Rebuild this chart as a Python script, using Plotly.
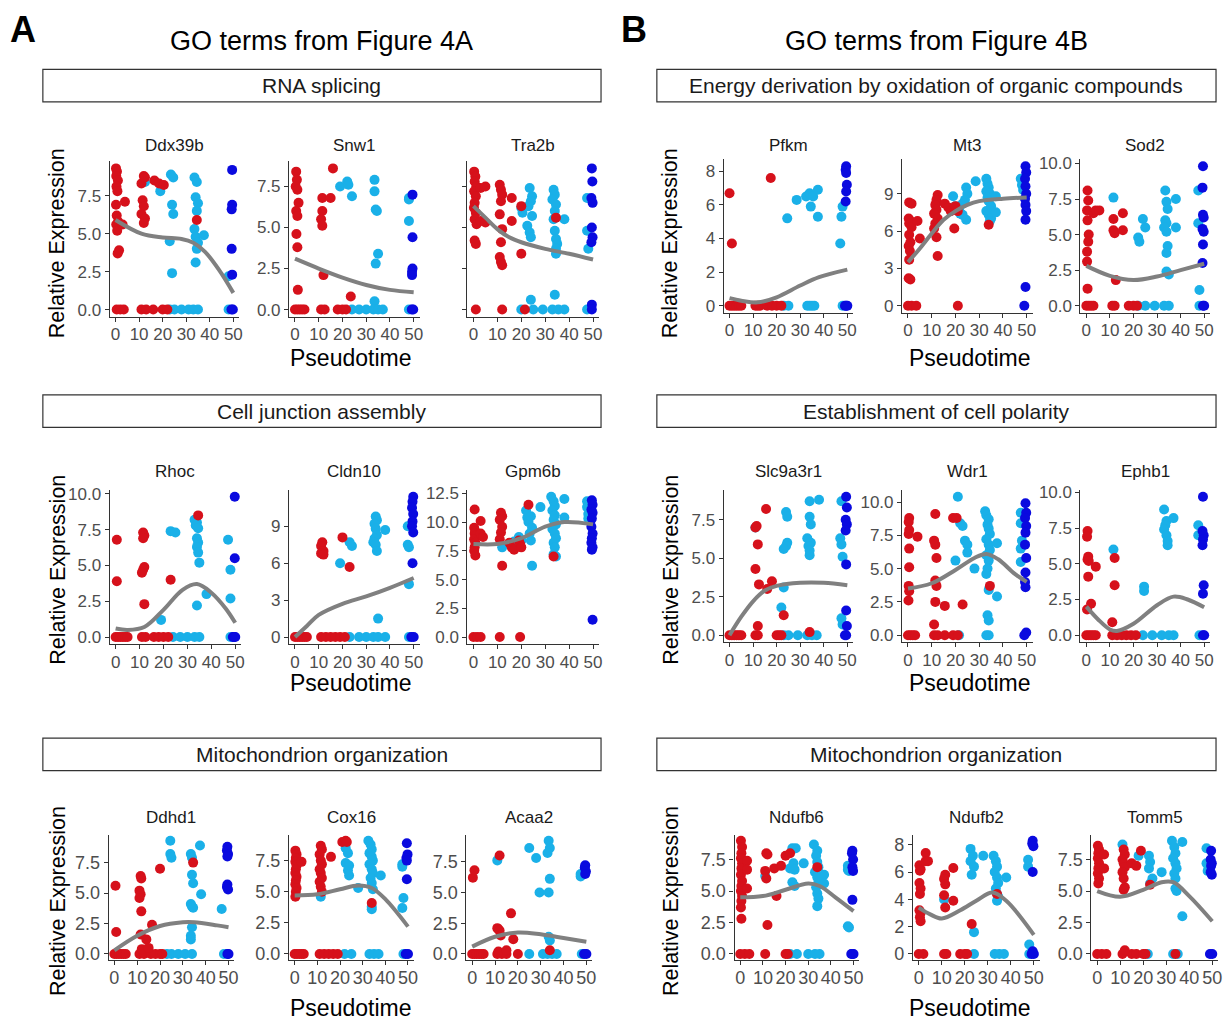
import plotly.graph_objects as go

# ---------------- DATA ----------------
GENES = ["Ddx39b", "Snw1", "Tra2b", "Pfkm", "Mt3", "Sod2",
         "Rhoc", "Cldn10", "Gpm6b", "Slc9a3r1", "Wdr1", "Ephb1",
         "Ddhd1", "Cox16", "Acaa2", "Ndufb6", "Ndufb2", "Tomm5"]

GROUP_TITLES_A = ["RNA splicing", "Cell junction assembly", "Mitochondrion organization"]
GROUP_TITLES_B = ["Energy derivation by oxidation of organic compounds",
                  "Establishment of cell polarity", "Mitochondrion organization"]

X_TICKS = [0, 10, 20, 30, 40, 50]

# (pseudotime, expression) pairs per gene and cell group
Ddx39b_red = [(0.2,9.3),(0.6,9.1),(0.3,8.8),(1.0,8.5),(0.4,8.1),(0.8,7.8),(0.2,6.9),(0.5,6.2),(1.1,5.8),(0.3,5.6),(0.7,5.2),(1.5,3.9),(0.9,3.7),(4.0,7.1),(3.0,5.6),(0.5,0),(2.0,0),(3.5,0),(11.0,8.3),(12.0,8.8),(12.5,8.7),(11.5,7.2),(12.0,6.8),(11.0,6.3),(12.5,6.0),(12.0,5.7),(11,0),(13,0),(16,0),(16.5,8.5),(18.5,8.3),(20.5,8.2),(20,0),(22,0),(34.5,5.9)]
Ddx39b_cyan = [(12.5,8.4),(19,7.8),(23.5,8.9),(24.5,8.7),(24,6.9),(24.5,6.3),(23,4.5),(24,2.4),(23,0),(25,0),(28,0),(31,0),(33.5,8.7),(34.5,8.4),(34,7.4),(35,7.0),(34.5,6.5),(33.5,5.3),(34,4.8),(35,4.4),(34.5,4.0),(34,3.1),(33,0),(35,0),(37.5,4.9),(48,2.2),(48,0)]
Ddx39b_blue = [(49.5,9.2),(49.5,6.9),(49.3,6.6),(49.3,4.0),(49.5,2.3),(49.8,0),(49.2,0)]
Ddx39b_fit = ([0,11,20,28,33,38,44,50], [5.9,5.0,4.75,4.65,4.4,3.8,2.6,1.1])

Snw1_red = [(0.5,8.4),(0.8,7.9),(0.3,7.5),(1.0,7.3),(1.5,6.5),(0.5,6.0),(1.0,5.7),(0.6,4.6),(1.0,3.8),(1.2,1.2),(0,0),(1,0),(2,0),(3,0),(4,0),(11.5,6.8),(11.5,6.0),(11,5.5),(11.5,5.1),(12,2.1),(11,0),(12.5,0),(15,6.8),(16,8.6),(18,0),(20,0),(21.5,0),(23.5,0.8)]
Snw1_cyan = [(19,7.5),(22,7.8),(22.5,7.6),(24,6.9),(24,0),(27,0),(30,0),(33.5,7.9),(33.5,7.2),(34,6.1),(34.5,6.0),(35,3.4),(34,2.8),(33.5,0.5),(33,0),(35,0),(37,0),(48,6.8),(48,6.7),(48,5.4),(48,0)]
Snw1_blue = [(49.5,7.0),(49.5,4.4),(49.5,2.5),(49.3,2.3),(49.3,2.1),(49.8,0),(49.2,0)]
Snw1_fit = ([0,10,20,30,40,50], [3.1,2.5,1.95,1.5,1.2,1.05])

Tra2b_red = [(0.3,8.4),(0.8,8.1),(0.5,7.8),(1.2,7.5),(0.3,7.2),(1,6.9),(0.5,6.5),(0.2,6.2),(1,5.9),(0.5,5.5),(1.3,5.2),(0.5,4.2),(1.0,4.0),(3,7.4),(3,5.4),(5,7.5),(5,5.3),(1,0),(11,7.6),(11.5,7.3),(12,7.0),(11.5,6.6),(11,5.8),(12,4.9),(11.5,4.1),(11,3.2),(11.5,2.9),(12,2.7),(12,0),(16,6.8),(16,5.4),(20,6.3),(20,3.4),(21.5,0),(34.5,5.6)]
Tra2b_cyan = [(20,6.2),(20.5,5.9),(23.5,7.4),(24.5,6.9),(24,6.6),(23,6.3),(24.5,5.7),(22.5,5.1),(23.5,4.7),(24,4.4),(24,0.6),(20,0),(25,0),(29,0),(33.5,7.3),(34,7.0),(33,6.7),(34.5,6.4),(34,6.0),(33.5,5.5),(34,4.8),(34.5,4.3),(35,4.0),(34.5,3.7),(34.5,3.4),(34,0.9),(33,0),(35.5,0),(38,0),(38,5.5),(47.5,6.8),(47.5,4.8),(48,3.7),(47.5,0)]
Tra2b_blue = [(49.5,8.6),(49.7,7.8),(49.3,6.8),(49.8,6.5),(49.5,5.0),(49.8,4.4),(49.3,4.1),(49.5,0.3),(49.5,0)]
Tra2b_fit = ([0,5,10,15,20,30,40,50], [6.3,5.6,4.9,4.4,4.1,3.7,3.4,3.05])

Pfkm_red = [(0,6.7),(1,3.7),(0,0),(1,0),(2,0),(3,0),(4,0),(5,0),(11,0),(12,0),(13,0),(16,0),(18,0),(20,0),(22,0),(17.5,7.6)]
Pfkm_cyan = [(24.5,5.2),(28.5,6.3),(32.5,6.5),(34,6.7),(34.5,5.9),(35.5,6.5),(37.5,6.9),(37.5,5.3),(23,0),(25,0),(33,0),(34,0),(35,0),(36,0),(48,5.9),(47.5,5.3),(47,3.7),(48,0)]
Pfkm_blue = [(49.5,8.3),(49.3,8.1),(49.5,7.9),(49.8,7.2),(49.5,6.8),(49.3,6.2),(49,0),(49.5,0),(50,0)]
Pfkm_fit = ([0,5,12,20,30,38,50], [0.45,0.3,0.2,0.5,1.2,1.7,2.15])

Mt3_red = [(0.5,8.3),(1.5,8.2),(0.3,7.0),(1,6.8),(0.5,6.6),(1.5,6.3),(0.5,5.7),(1,5.1),(0.3,4.8),(0.8,4.4),(0.5,3.7),(0.3,2.2),(1,2.1),(0,0),(1.5,0),(3.5,0),(4,6.8),(5,5.4),(12.5,8.9),(12,8.5),(11.5,8.1),(12,7.7),(11,7.4),(12.5,7.0),(11.5,6.6),(11,6.2),(12,5.5),(12.5,4.0),(15.5,8.2),(17,7.9),(18,7.6),(20,8.0),(19.5,6.2),(21,7.6),(21,0),(34,6.5)]
Mt3_cyan = [(19,8.8),(20,8.0),(21.5,7.7),(22,7.4),(23,8.2),(24.5,9.5),(25,9.0),(24,8.5),(24.5,6.9),(23,7.3),(28.5,10.0),(33,10.2),(33.5,9.8),(34,9.5),(33,9.2),(34.5,9.0),(33.5,8.7),(34,8.4),(35,8.0),(33,7.6),(34,7.3),(35,7.0),(34.5,6.8),(37,8.8),(37,7.5),(47.5,10.2),(48,9.7),(48.5,9.3)]
Mt3_blue = [(49.5,11.2),(49.8,10.7),(49.3,10.2),(49.5,9.6),(49.8,9.0),(49.3,8.6),(49.5,8.1),(49.8,7.6),(49.5,6.9),(49.5,1.5),(49,0)]
Mt3_fit = ([0,5,10,15,20,25,30,40,50], [3.5,4.6,5.8,6.9,7.6,8.1,8.4,8.6,8.7])

Sod2_red = [(0.5,8.1),(0.8,7.4),(0.3,6.7),(0.5,6.0),(1,5.0),(0.8,4.5),(0.3,3.8),(0.3,3.1),(0.5,1.2),(0,0),(1,0),(2,0),(3,0),(3,6.5),(4,6.7),(5.5,6.7),(11.5,6.1),(11.5,5.3),(12,5.1),(12.5,1.8),(15.5,6.5),(15.5,5.3),(11,0),(12,0),(18,0),(20,0),(21.5,0)]
Sod2_cyan = [(11.5,7.6),(22,4.8),(22.5,4.5),(24,6.1),(25,5.5),(22,0),(25,0),(29,0),(33,0),(35,0),(33.5,8.1),(34,7.3),(34.5,6.8),(33.5,6.0),(34,5.8),(33,5.5),(34,5.2),(34.5,4.2),(34,3.7),(34,2.4),(35,2.2),(38,7.5),(38,5.5),(47.5,8.1),(47.5,5.8),(48,1.1),(48,0)]
Sod2_blue = [(49.5,9.8),(49.3,8.3),(49.5,6.4),(49.8,6.2),(49.3,5.4),(49.8,5.2),(49.5,4.3),(49.3,3.0),(49.5,0),(50,0)]
Sod2_fit = ([0,10,20,30,40,50], [2.8,2.1,1.8,2.05,2.5,2.95])

Rhoc_red = [(0.5,6.8),(0.5,3.9),(0,0),(1,0),(2,0),(3,0),(4,0),(5,0),(11.5,7.3),(12,7.1),(11.5,6.9),(12,4.9),(11.5,4.7),(11,4.5),(12,2.3),(11,0),(12.5,0),(16,0),(18,0),(20,0),(22,0),(23,4.0),(34.5,8.5)]
Rhoc_cyan = [(19,1.2),(23,7.4),(25,7.3),(24,0),(27,0),(30,0),(33,0),(35,0),(33,8.2),(34,8.0),(33.5,7.8),(34.5,7.6),(34,6.9),(34.5,6.6),(34,6.3),(34.5,5.9),(35,5.2),(34,2.2),(38,3.0),(47,6.8),(48,4.7),(48,2.7),(48,0)]
Rhoc_blue = [(49.8,9.8),(49.8,5.5),(49,0),(49.5,0),(50,0)]
Rhoc_fit = ([0,5,12,20,28,34,40,46,50], [0.6,0.5,0.7,1.9,3.3,3.7,3.1,2.0,1.0])

Cldn10_red = [(0,0),(1,0),(2,0),(3,0),(4,0),(5,0),(11,0),(13,0),(15,0),(17,0),(19,0),(21,0),(11.5,7.7),(11,7.4),(12,7.0),(11,6.8),(12,6.7),(20,8.1),(23,5.7)]
Cldn10_cyan = [(19,6.0),(23,7.7),(24,7.4),(23,0),(27,0),(30,0),(33,0),(35,0),(38,0),(34,9.8),(34.5,9.5),(33.5,9.2),(34,8.8),(34.5,8.3),(33.5,8.0),(33,7.7),(34,7.5),(34.5,7.0),(35,1.5),(38,8.7),(47.5,9.0),(47.5,7.5),(48,7.3),(48,4.3),(48,0)]
Cldn10_blue = [(49.8,11.4),(49.5,11.0),(49.3,10.5),(49.8,10.0),(49.5,9.4),(49.3,9.0),(49.8,8.5),(49.5,6.0),(49,0),(50,0)]
Cldn10_fit = ([0,5,10,20,30,40,50], [0,0.9,1.8,2.7,3.3,4.0,4.8])

Gpm6b_red = [(0.5,11.1),(0.3,9.5),(0.8,9.2),(0.5,9.0),(1,8.8),(0.3,8.5),(0.8,8.2),(0.5,7.8),(0.3,7.5),(0.8,7.1),(3,10.1),(3,9.0),(4,8.7),(0,0),(1.5,0),(3,0),(11.5,10.8),(12,10.5),(11,10.2),(12,9.6),(11.5,9.1),(11,8.5),(12,6.2),(11,0),(15,8.2),(16,7.8),(17,7.6),(19,8.4),(19.5,8.1),(20,7.8),(19.5,0),(23,11.5),(33.5,7.0)]
Gpm6b_cyan = [(12,7.8),(17,8.3),(19,8.7),(20,8.4),(22.5,10.4),(23,10.0),(22,11.0),(24,10.5),(24.5,9.5),(23.5,9.0),(24,8.4),(24.5,6.2),(28,11.3),(32.5,12.2),(33.5,11.8),(34,11.4),(33,11.0),(34,10.6),(33.5,10.2),(34.5,9.8),(33,9.4),(34,9.0),(34.5,8.6),(33.5,8.2),(34,7.8),(33.5,7.2),(34.5,7.0),(38,12.0),(38,10.4),(47.5,11.8),(47.5,11.3),(48,10.7),(48,10.3)]
Gpm6b_blue = [(49.5,11.9),(49.8,11.5),(49.3,11.1),(49.8,10.8),(49.5,10.3),(49.3,9.6),(49.8,9.0),(49.5,8.6),(49.3,8.2),(49.8,7.8),(49.5,7.6),(49.8,1.5)]
Gpm6b_fit = ([0,10,20,30,38,50], [8.1,8.1,8.6,9.6,10.0,9.8])

Slc9a3r1_red = [(0,0),(1,0),(2,0),(3,0),(4,0),(5,0),(11,0),(12,0),(20,0),(21,0),(22,0),(11.5,7.1),(11,7.0),(12,5.9),(11,4.3),(12.5,3.3),(12,0.6),(15.5,8.2),(16,3.0),(18,3.5),(23,1.3),(34,0.2)]
Slc9a3r1_cyan = [(11,7.0),(22,1.8),(23,3.1),(24,8.0),(24.5,7.7),(24.5,6.0),(24,5.8),(23,5.6),(23,0),(25,0),(29,0),(33,0),(35,0),(37,0),(34,8.7),(34,7.7),(34.5,7.2),(33,6.3),(34.5,6.0),(33.5,5.8),(34,5.5),(34,5.2),(38,8.8),(47.5,8.7),(47,6.3),(47.5,5.9),(48,5.1),(47.5,1.1),(48,0.7)]
Slc9a3r1_blue = [(49.5,9.0),(49.8,8.3),(49.3,7.5),(49.8,7.2),(49.3,6.8),(49.5,4.6),(49.5,1.6),(49.8,0.6),(49,0),(49.5,0)]
Slc9a3r1_fit = ([0,5,10,15,20,30,40,50], [0,1.2,2.2,2.9,3.2,3.4,3.4,3.25])

Wdr1_red = [(0.5,8.8),(0.3,8.5),(0.5,7.9),(0.3,7.6),(0.5,6.5),(0.5,5.1),(0.3,3.7),(0.5,3.3),(0.2,2.6),(0,0),(1,0),(2,0),(3,0),(4,7.4),(11.5,9.1),(11,7.1),(11.5,6.8),(12,5.8),(11.5,4.1),(12,3.7),(11.5,2.5),(11,0.8),(11,0),(12.5,0),(15.5,2.2),(15.5,0),(19,8.8),(20.5,8.8),(19,0),(21,0),(23,2.3),(34.5,3.7)]
Wdr1_cyan = [(21,10.4),(20,5.6),(22,8.4),(23,8.2),(24,7.1),(25,6.8),(25,6.2),(28,5.0),(21.5,0),(32.5,9.3),(33,9.0),(34,8.7),(33.5,8.3),(34,8.0),(34.5,7.6),(33,7.2),(34,6.8),(34.5,6.4),(33,6.0),(34,5.6),(33.5,5.0),(33,4.6),(34,3.4),(33.5,1.5),(34,1.1),(33,0),(34,0),(37.5,6.9),(37.5,2.9),(47.5,9.2),(47.5,8.4),(48,7.1),(47.5,6.5),(47.5,5.5)]
Wdr1_blue = [(49.5,9.9),(49.8,9.2),(49.3,8.8),(49.8,8.2),(49.5,7.7),(49.3,6.8),(49.8,5.8),(49.5,4.7),(49.3,4.0),(49.5,3.6),(49.8,0.2),(49,0)]
Wdr1_fit = ([0,10,20,28,33,38,45,50], [3.5,3.9,4.9,5.8,6.1,5.7,4.6,4.0])

Ephb1_red = [(0.5,7.3),(0.3,6.9),(0.8,5.5),(0.5,5.3),(1,5.2),(0.8,4.1),(0.3,1.8),(2,2.2),(4,4.8),(0,0),(1,0),(2,0),(3,0),(4,0),(11,0),(13,0),(15,0),(17,0),(19,0),(21,0),(12,5.4),(12,3.5),(11,0.9)]
Ephb1_cyan = [(11.5,6.0),(24.5,3.4),(24.5,3.1),(24,0),(28,0),(32,0),(35,0),(37,0),(33,8.8),(34,8.0),(33.5,7.7),(33,7.4),(34,7.0),(34.5,6.6),(34.5,6.3),(37,8.2),(47.5,7.7),(47.5,7.0),(48,0)]
Ephb1_blue = [(49.5,9.7),(49.3,7.3),(49.8,7.0),(49.5,6.7),(49.3,6.3),(49.8,3.5),(49.5,2.9),(49.5,0),(50,0)]
Ephb1_fit = ([0,5,10,13,20,30,37,43,50], [2.0,1.1,0.4,0.3,0.8,2.1,2.7,2.5,1.95])

Ddhd1_red = [(0.5,5.6),(0.8,1.8),(0,0),(1,0),(2,0),(3,0),(4,0),(5,0),(11,0),(13,0),(16,0),(18,0),(20,0),(21,0),(11.5,6.4),(11.8,6.2),(11,5.2),(11.5,4.9),(11,4.6),(11.8,3.5),(11.5,1.6),(12,0.4),(14,1.2),(15,0.5),(16.5,2.4),(20,7.0),(34.5,7.5)]
Ddhd1_cyan = [(24.5,9.3),(24.5,8.2),(25,7.9),(23,0),(25,0),(28,0),(31,0),(34,0),(33.5,8.2),(34,7.9),(34,6.5),(34.5,5.8),(33.5,4.1),(34,3.9),(34.5,3.8),(34,2.2),(33.5,1.5),(33.5,1.2),(37.5,8.9),(38,4.9),(47,3.7),(48,0)]
Ddhd1_blue = [(49.5,8.8),(49.3,8.5),(49.8,8.2),(49.5,8.0),(49.5,5.7),(49.3,5.5),(49.8,5.3),(49.5,0),(50,0)]
Ddhd1_fit = ([0,10,20,30,35,45,50], [0.3,1.5,2.3,2.6,2.6,2.35,2.2])

Cox16_red = [(0.3,8.3),(0.8,8.0),(0.5,7.7),(0.3,7.4),(0.8,7.1),(0.5,6.8),(0.3,6.5),(0.8,6.2),(0.5,5.9),(0.3,5.6),(0.8,5.3),(0.5,5.0),(0.3,4.6),(3,7.4),(0,0),(1,0),(2,0),(3,0),(4,0),(11,0),(13,0),(15,0),(17,0),(19,0),(11.5,8.7),(12,8.4),(11,8.0),(11.5,7.5),(12,7.2),(11,6.8),(11.5,6.5),(12,6.1),(11,5.8),(11.5,5.4),(12,5.0),(16,7.8),(21,9.0),(22.5,9.1),(23,9.0),(34,4.1)]
Cox16_cyan = [(11.5,4.6),(22.5,8.5),(23.5,8.1),(22.5,7.3),(24,7.1),(23.5,6.7),(24,6.3),(22,0),(25,0),(28,5.3),(32.5,9.1),(33.5,8.8),(34,8.4),(33,8.1),(34,7.8),(34.5,7.5),(33,7.2),(34,6.8),(34.5,6.5),(33.5,6.1),(34,5.7),(34.5,5.2),(34,3.8),(34,3.6),(33,0),(35,0),(37,0),(38,6.3),(47.5,7.2),(47.5,7.0),(48,4.5),(47.5,3.7),(48,0)]
Cox16_blue = [(49.5,8.9),(49.8,8.0),(49.3,7.7),(49.5,7.5),(49.5,6.0),(49,0),(50,0)]
Cox16_fit = ([0,10,20,28,34,40,50], [4.7,4.8,5.2,5.5,5.3,4.4,2.2])

Acaa2_red = [(0.3,6.2),(1,6.8),(0,0),(1,0),(2,0),(3,0),(4,0),(5,0),(11,0),(13,0),(15,0),(20,0),(12,8.0),(11,2.1),(11.5,2.0),(12,1.9),(12.5,1.5),(11.5,0.2),(15,0.3),(17,3.3),(18,1.2),(34,0.3)]
Acaa2_cyan = [(11,7.6),(25,8.6),(28,7.8),(29.5,5.0),(33.5,9.2),(34,8.6),(33,8.2),(34,6.1),(33.5,5.0),(33.5,1.4),(34,1.1),(25,0),(31,0),(33,0),(35,0),(37,0),(47.5,6.5),(47.5,6.3),(48,0)]
Acaa2_blue = [(49.5,7.2),(49.3,7.0),(49.8,6.7),(49.5,6.5),(49,0),(50,0)]
Acaa2_fit = ([0,10,20,30,40,50], [0.6,1.4,1.75,1.6,1.3,1.0])

Ndufb6_red = [(0.3,9.0),(0.8,8.5),(0.5,8.0),(0.3,7.6),(0.8,7.2),(0.5,6.8),(0.3,6.3),(0.8,5.8),(0.5,5.4),(0.3,5.0),(0.8,4.6),(0.5,4.2),(0.3,3.7),(0.5,2.8),(3,7.4),(3,6.7),(3,5.2),(0,0),(2,0),(4,0),(11,0),(20,0),(21,0),(11.5,8.0),(12,7.9),(11,6.6),(11.5,6.0),(12,2.3),(15,6.8),(16,4.6),(18,7.0),(20,7.8),(22,8.0),(34,6.9)]
Ndufb6_cyan = [(11,6.2),(22,6.8),(23,8.4),(24.5,8.4),(23.5,7.2),(24,6.7),(23,5.7),(24,5.4),(28,7.2),(22,0),(25,0),(30,0),(33,0),(35,0),(32.5,8.7),(34,8.2),(33.5,7.8),(34,7.3),(34.5,6.9),(33,6.5),(34,6.1),(34.5,5.7),(33.5,5.3),(34,4.8),(34.5,4.4),(34,3.8),(37,6.3),(37,5.6),(47.5,7.0),(47.5,6.7),(48,6.6),(47.5,2.2),(48,2.1)]
Ndufb6_blue = [(49.5,8.2),(49.3,8.0),(49.8,7.5),(49.5,6.9),(49.8,6.6),(49.5,4.3),(49,0),(49.5,0),(50,0)]
Ndufb6_fit = ([0,10,20,30,35,42,50], [4.5,4.6,5.1,5.6,5.4,4.5,3.4])

Ndufb2_red = [(0.3,6.5),(0.8,6.2),(0.5,6.1),(0.3,5.2),(0.8,4.8),(0.5,4.4),(0.3,3.2),(0.8,3.0),(0.5,2.7),(0.8,2.4),(3,7.4),(3,6.8),(4,6.8),(0,0),(2,0),(11,0),(12,0),(18,0),(20,0),(21,0),(11.5,5.8),(11,5.5),(11.5,5.1),(11,4.3),(11.5,3.4),(15,6.3),(15,3.9),(23,2.2),(34,4.4)]
Ndufb2_cyan = [(11,4.0),(22.5,7.7),(23.5,7.2),(22.5,6.8),(24,6.4),(23,5.8),(24,1.6),(28,7.2),(24,0),(33,0),(35,0),(37,0),(32.5,7.2),(33.5,6.8),(34,6.4),(33,6.0),(34,5.6),(34.5,5.2),(33.5,4.8),(34,4.4),(34.5,4.2),(34,3.9),(38,5.6),(47.5,6.9),(47.5,6.4),(48,0.7),(48,0)]
Ndufb2_blue = [(49.5,8.3),(49.3,8.1),(49.8,7.9),(49.5,6.0),(49.5,0.2),(49,0),(50,0)]
Ndufb2_fit = ([0,5,10,18,25,32,38,50], [3.4,2.9,2.6,3.2,3.9,4.5,3.9,1.4])

Tomm5_red = [(0.3,8.6),(0.8,8.3),(0.5,8.0),(0.3,7.6),(0.8,7.2),(0.5,6.8),(0.3,6.4),(0.8,6.0),(0.5,5.6),(3,7.9),(3,6.8),(0,0),(2,0),(4,0),(11,0),(15,0),(17,0),(20,0),(21,0),(11.5,8.3),(12,7.9),(11,7.5),(11.5,7.2),(12,6.9),(11,6.5),(11.5,6.0),(12,5.3),(11.5,5.1),(12,0.3),(15,7.2),(17,7.0),(19,8.2),(23,5.5),(34,0)]
Tomm5_cyan = [(11,8.7),(18,7.8),(22.5,7.8),(23,7.3),(22.5,6.8),(24,6.0),(23,5.6),(22,0),(33,0),(35,0),(28,6.5),(32.5,9.0),(33.5,8.5),(34,8.0),(33,7.6),(34,7.2),(34.5,6.8),(33.5,6.4),(34,6.0),(34,5.2),(34.5,5.0),(37,8.9),(37,3.0),(47.5,8.4),(47.5,7.2),(48,6.6)]
Tomm5_blue = [(49.5,8.2),(49.3,7.5),(49.8,7.2),(49.5,7.0),(49.3,6.5),(49.8,6.3),(49,0),(50,0)]
Tomm5_fit = ([0,10,20,28,33,40,50], [5.0,4.55,5.1,5.7,5.7,4.6,2.6])

# y tick step per gene
Y_DTICK = {"Ddx39b": 2.5, "Snw1": 2.5, "Tra2b": 2.5, "Pfkm": 2, "Mt3": 3, "Sod2": 2.5,
           "Rhoc": 2.5, "Cldn10": 3, "Gpm6b": 2.5, "Slc9a3r1": 2.5, "Wdr1": 2.5, "Ephb1": 2.5,
           "Ddhd1": 2.5, "Cox16": 2.5, "Acaa2": 2.5, "Ndufb6": 2.5, "Ndufb2": 2, "Tomm5": 2.5}
HIDE_Y_LABELS = {"Tra2b"}

DATA = {}
for g in GENES:
    DATA[g] = dict(red=globals()[g + "_red"], cyan=globals()[g + "_cyan"],
                   blue=globals()[g + "_blue"], fit=globals()[g + "_fit"])

# ---------------- STYLE / LAYOUT ----------------
W, H = 1228, 1026
COLORS = {"cyan": "#1AB0E8", "blue": "#0A0ADF", "red": "#D6111B"}
FONT = "Liberation Sans, Arial, sans-serif"

# pixel plot areas: (left, right, top, bottom)
ROWS_A = [(157, 314), (489, 645), (838, 964)]
ROWS_B = [(155, 310), (489, 643), (838, 964)]
COLS = {
    0: [(110, 240), (290, 421), (469, 601)],
    1: [(726, 856), (905, 1036), (1084, 1214)],
    2: [(110, 242), (290, 421), (469, 601)],
    3: [(726, 856), (905, 1036), (1084, 1214)],
    4: [(109, 235), (290, 415), (468, 594)],
    5: [(737, 862), (916, 1043), (1095, 1222)],
}

def px(x):
    return x / W

def py(y):
    return 1 - y / H

def note(text, x, y, size, color="black", angle=0):
    return dict(text=text, x=px(x), y=py(y), xref="paper", yref="paper", showarrow=False,
                xanchor="center", yanchor="middle", textangle=angle,
                font=dict(family=FONT, size=size, color=color))

fig = go.Figure()
layout = {}
annotations = []
shapes = []

for i, g in enumerate(GENES):
    block = i // 3
    k = i % 3
    row = block // 2
    col_b = block % 2
    left, right = COLS[block][k]
    top, bottom = (ROWS_B if col_b else ROWS_A)[row]
    n = i + 1
    xa = "x" if n == 1 else f"x{n}"
    ya = "y" if n == 1 else f"y{n}"
    d = DATA[g]
    ally = []
    for grp in ["cyan", "blue", "red"]:
        pts = d[grp]
        xs = [p[0] for p in pts]
        ys = [p[1] for p in pts]
        ally += ys
        fig.add_trace(go.Scatter(x=xs, y=ys, mode="markers", xaxis=xa, yaxis=ya,
                                 marker=dict(size=10, color=COLORS[grp], line=dict(width=0)),
                                 showlegend=False, hoverinfo="skip"))
    fx, fy = d["fit"]
    ally += list(fy)
    fig.add_trace(go.Scatter(x=fx, y=fy, mode="lines", xaxis=xa, yaxis=ya,
                             line=dict(color="#808080", width=4, shape="spline", smoothing=1.0),
                             showlegend=False, hoverinfo="skip"))
    xmin, xmax = 0, 50
    ymin, ymax = min(ally), max(ally)
    xr = [xmin - 0.05 * (xmax - xmin), xmax + 0.05 * (xmax - xmin)]
    yr = [ymin - 0.05 * (ymax - ymin), ymax + 0.05 * (ymax - ymin)]
    tick_size = 18 if row == 2 else 17
    dt = Y_DTICK[g]
    fmt = ".1f" if dt == 2.5 else "d"
    axkey = "xaxis" if n == 1 else f"xaxis{n}"
    aykey = "yaxis" if n == 1 else f"yaxis{n}"
    common = dict(showgrid=False, zeroline=False, showline=True, linecolor="#333333", linewidth=1.2,
                  ticks="outside", ticklen=4, tickcolor="#333333", tickwidth=1.1,
                  tickfont=dict(family=FONT, size=tick_size, color="#4D4D4D"))
    layout[axkey] = dict(domain=[px(left), px(right)], anchor=ya, range=xr, tickvals=X_TICKS,
                         ticklabelstandoff=-2, **common)
    layout[aykey] = dict(domain=[py(bottom), py(top)], anchor=xa, range=yr, tick0=0, dtick=dt,
                         tickformat=fmt, showticklabels=(g not in HIDE_Y_LABELS), **common)
    ty = [141, 471, 820][row]
    annotations.append(note(g, (left + right) / 2, ty, 17, "#1a1a1a"))

# group strips
for x0, x1, titles in [(43, 603, GROUP_TITLES_A), (659, 1220, GROUP_TITLES_B)]:
    for r, (y0, y1) in enumerate([(64, 97), (393, 426), (740, 773)]):
        shapes.append(dict(type="rect", xref="paper", yref="paper",
                           x0=px(x0), x1=px(x1), y0=py(y1), y1=py(y0),
                           line=dict(color="#333333", width=1.2), fillcolor="white", layer="below"))
        annotations.append(note(titles[r], (x0 + x1) / 2, (y0 + y1) / 2, 21, "#1a1a1a"))

# big titles and panel letters
annotations.append(note("GO terms from Figure 4A", 323, 35, 27))
annotations.append(note("GO terms from Figure 4B", 940, 35, 27))
annotations.append(note("<b>A</b>", 23, 24, 36))
annotations.append(note("<b>B</b>", 636, 24, 36))

# axis titles
for cx, cpx in [(58, 352), (673, 973)]:
    for yc, yp in [(240, 356), (570, 684), (905, 1013)]:
        annotations.append(note("Relative Expression", cx, yc, 21.5, angle=-90))
        annotations.append(note("Pseudotime", cpx, yp, 23))

fig.update_layout(width=W, height=H, margin=dict(l=0, r=0, t=0, b=0),
                  paper_bgcolor="white", plot_bgcolor="white",
                  annotations=annotations, shapes=shapes, showlegend=False, **layout)

PIN = ("document.documentElement.style.margin='0';document.documentElement.style.overflow='hidden';"
       "document.body.style.margin='0';document.body.style.padding='0';document.body.style.overflow='hidden';"
       "var gd=document.getElementById('{plot_id}');gd.style.position='fixed';gd.style.top='0px';gd.style.left='0px';")
fig.write_html("out.html", config={"displayModeBar": False}, post_script=PIN)
